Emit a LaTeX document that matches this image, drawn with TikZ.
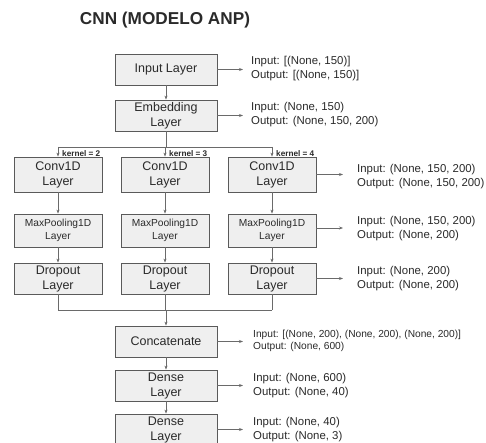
\documentclass[tikz,border=0pt]{standalone}
\usepackage{fontspec}
\setmainfont{Liberation Sans}
\usetikzlibrary{arrows.meta}
\definecolor{boxfill}{HTML}{EFEFEF}
\definecolor{boxline}{HTML}{5A5A5A}
\definecolor{wire}{HTML}{6A6A6A}
\definecolor{ink}{HTML}{2A2A2A}
\begin{document}
\begin{tikzpicture}[x=1pt,y=-1pt,
  layer/.style={draw=boxline,fill=boxfill,line width=0.8pt,minimum width=102pt,minimum height=31pt,
    inner sep=0pt,align=center,text=ink,font=\fontsize{12.5}{15}\selectfont},
  colbox/.style={layer,minimum width=88pt},
  poolbox/.style={colbox,minimum height=33pt,font=\fontsize{10.2}{13}\selectfont},
  info/.style={anchor=west,align=left,inner sep=0pt,text=ink,font=\fontsize{11.4}{14}\selectfont},
  smallinfo/.style={info,font=\fontsize{10.2}{12.5}\selectfont},
  kern/.style={anchor=west,inner sep=0pt,text=ink,font=\fontsize{8.2}{9}\selectfont\bfseries},
  link/.style={draw=wire,line width=0.8pt},
  flow/.style={link,-{Stealth[length=4pt,width=3pt]}},
]
\useasboundingbox (0,0) rectangle (486,443);
\clip (0,0) rectangle (486,443);
\fill[white] (0,0) rectangle (486,443);

% title
\node[text=ink,font=\fontsize{17.2}{20}\selectfont\bfseries] (title) at (165,20) {CNN (MODELO ANP)};

% main trunk
\node[layer] (inp) at (166,69.5) {Input Layer};
\node[layer] (emb) at (166,115.5) {Embedding\\Layer};

% three convolution branches
\node[colbox,minimum height=35pt] (c1) at (58,174.5) {Conv1D\\Layer};
\node[colbox,minimum height=35pt] (c2) at (165,174.5) {Conv1D\\Layer};
\node[colbox,minimum height=35pt] (c3) at (272,174.5) {Conv1D\\Layer};
\node[poolbox] (p1) at (58,230.5) {MaxPooling1D\\Layer};
\node[poolbox] (p2) at (165,230.5) {MaxPooling1D\\Layer};
\node[poolbox] (p3) at (272,230.5) {MaxPooling1D\\Layer};
\node[colbox] (d1) at (58,278.5) {Dropout\\Layer};
\node[colbox] (d2) at (165,278.5) {Dropout\\Layer};
\node[colbox] (d3) at (272,278.5) {Dropout\\Layer};

% merge and head
\node[layer] (cat) at (166,341.5) {Concatenate};
\node[layer] (fc1) at (166,385.5) {Dense\\Layer};
\node[layer] (fc2) at (166,429.5) {Dense\\Layer};

% split / join points
\coordinate (split) at (166,147);
\coordinate (join) at (166,310);

% shape annotations
\node[info] (iinp) at (251,69) {Input: [(None, 150)]\\Output: [(None, 150)]};
\node[info] (iemb) at (251,115) {Input: (None, 150)\\Output: (None, 150, 200)};
\node[info] (iconv) at (357,176.5) {Input: (None, 150, 200)\\Output: (None, 150, 200)};
\node[info] (ipool) at (357,228.5) {Input: (None, 150, 200)\\Output: (None, 200)};
\node[info] (idrop) at (357,279) {Input: (None, 200)\\Output: (None, 200)};
\node[smallinfo] (icat) at (253,341) {Input: [(None, 200), (None, 200), (None, 200)]\\Output: (None, 600)};
\node[info] (ifc1) at (253,385.5) {Input: (None, 600)\\Output: (None, 40)};
\node[info] (ifc2) at (253,430) {Input: (None, 40)\\Output: (None, 3)};

% kernel sizes
\node[kern] (k1) at (62,154) {kernel = 2};
\node[kern] (k2) at (169,154) {kernel = 3};
\node[kern] (k3) at (276,154) {kernel = 4};

% vertical flow
\draw[flow] (inp) -- (emb);
\draw[link] (emb.south) -- (split);
\draw[link] (split -| c1) -- (split -| c3);
\draw[flow] (split -| c1) -- (c1);
\draw[flow] (split -| c2) -- (c2);
\draw[flow] (split -| c3) -- (c3);
\foreach \i in {1,2,3}{
  \draw[flow] (c\i) -- (p\i);
  \draw[flow] (p\i) -- (d\i);
  \draw[link] (d\i.south) -- (join -| d\i);
}
\draw[link] (join -| d1) -- (join -| d3);
\draw[flow] (join) -- (cat);
\draw[flow] (cat) -- (fc1);
\draw[flow] (fc1) -- (fc2);

% annotation arrows
\draw[flow,shorten >=8pt] (inp.east) -- (inp.east -| iinp.west);
\draw[flow,shorten >=8pt] (emb.east) -- (emb.east -| iemb.west);
\draw[flow,shorten >=14pt] (c3.east) -- (c3.east -| iconv.west);
\draw[flow,shorten >=14pt] ([yshift=2.5pt]p3.east) -- ([yshift=2.5pt]p3.east -| ipool.west);
\draw[flow,shorten >=14pt] (d3.east) -- (d3.east -| idrop.west);
\draw[flow,shorten >=10pt] (cat.east) -- (cat.east -| icat.west);
\draw[flow,shorten >=10pt] (fc1.east) -- (fc1.east -| ifc1.west);
\draw[flow,shorten >=10pt] (fc2.east) -- (fc2.east -| ifc2.west);
\end{tikzpicture}
\end{document}
